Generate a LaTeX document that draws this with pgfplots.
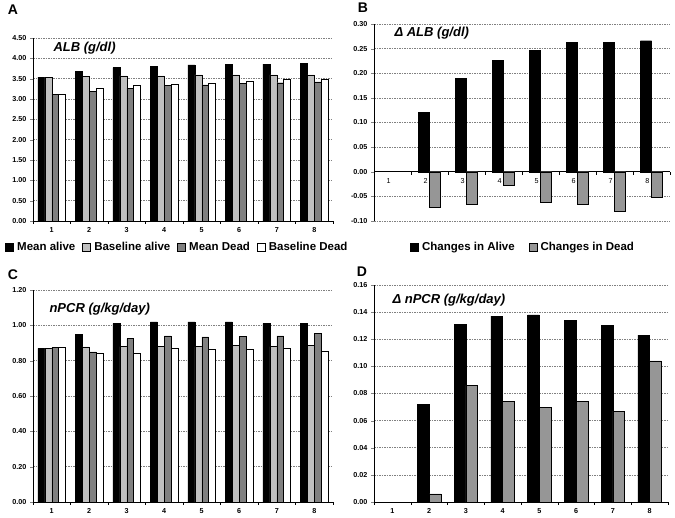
\documentclass[border=0pt]{standalone}
\usepackage{fontspec}
\setmainfont{Liberation Sans}
\usepackage{pgfplots}
\pgfplotsset{compat=1.18}

\definecolor{lgray}{RGB}{192,192,192}
\definecolor{mgray}{RGB}{128,128,128}
\definecolor{dgray}{RGB}{150,150,150}

\pgfplotsset{
 mybase/.style={
  scale only axis,
  anchor=south west,
  axis x line*=bottom, axis y line*=left,
  xmin=0.5, xmax=8.5,
  xtick={1,2,3,4,5,6,7,8},
  minor xtick={0.5,1.5,2.5,3.5,4.5,5.5,6.5,7.5,8.5},
  major x tick style={draw=none},
  minor x tick style={draw=black, line width=0.5pt},
  minor tick length=3pt,
  major tick length=3pt,
  tick align=outside,
  ymajorgrids,
  grid style={gray, dash pattern=on 1.5pt off 1pt, line width=0.6pt},
  tick label style={font=\fontsize{7.2}{8}\selectfont\bfseries},
  /pgf/number format/assume math mode=true,
  yticklabel style={/pgf/number format/.cd, fixed, fixed zerofill, precision=2},
  ybar=0pt,
  axis line style={black, line width=0.6pt},
  legend style={draw=none, fill=none, font=\fontsize{11.5}{13}\selectfont\bfseries, anchor=west, legend cell align=left,
    inner sep=0pt,
    /tikz/every odd column/.append style={column sep=1.5pt}},
  legend image code/.code={\draw[#1, draw=black, line width=0.4pt] (0pt,-4pt) rectangle (8pt,4pt);},
 }
}

\begin{document}
\begin{tikzpicture}
\useasboundingbox (0pt,0pt) rectangle (675pt,518pt);

% Panel A
\begin{axis}[mybase, at={(33pt,297pt)}, width=300pt, height=183pt,
  ymin=0, ymax=4.5, ytick={0,0.5,1,1.5,2,2.5,3,3.5,4,4.5},
  bar width=0.185,
  legend columns=4,
  legend style={at={(-0.093,-0.142)}, /tikz/every even column/.append style={column sep=5pt}},
  ]
\addplot[fill=black, draw=black, line width=0.4pt] coordinates {(1,3.54) (2,3.68) (3,3.77) (4,3.80) (5,3.84) (6,3.86) (7,3.86) (8,3.88)};
\addplot[fill=lgray, draw=black, line width=0.4pt] coordinates {(1,3.54) (2,3.55) (3,3.57) (4,3.57) (5,3.59) (6,3.59) (7,3.59) (8,3.59)};
\addplot[fill=mgray, draw=black, line width=0.4pt] coordinates {(1,3.12) (2,3.19) (3,3.27) (4,3.33) (5,3.35) (6,3.38) (7,3.40) (8,3.42)};
\addplot[fill=white, draw=black, line width=0.4pt] coordinates {(1,3.12) (2,3.26) (3,3.35) (4,3.37) (5,3.40) (6,3.43) (7,3.49) (8,3.48)};
\legend{Mean alive, Baseline alive, Mean Dead, Baseline Dead}
\end{axis}

% Panel B
\begin{axis}[mybase, at={(374pt,297pt)}, width=296pt, height=197pt,
  axis x line*=middle,
  ymin=-0.1, ymax=0.3, ytick={-0.1,-0.05,0,0.05,0.1,0.15,0.2,0.25,0.3},
  bar width=0.30,
  xticklabel style={font=\fontsize{7.2}{8}\selectfont, xshift=-4pt},
  legend columns=2,
  legend style={at={(0.1216,-0.132)}, /tikz/every even column/.append style={column sep=12pt}},
  ]
\addplot[fill=black, draw=black, line width=0.4pt] coordinates {(2,0.121) (3,0.190) (4,0.226) (5,0.246) (6,0.263) (7,0.263) (8,0.266)};
\addplot[fill=dgray, draw=black, line width=0.4pt] coordinates {(2,-0.073) (3,-0.065) (4,-0.028) (5,-0.061) (6,-0.066) (7,-0.080) (8,-0.051)};
\legend{Changes in Alive, Changes in Dead}
\end{axis}

% Panel C
\begin{axis}[mybase, at={(33pt,16pt)}, width=300pt, height=212pt,
  ymin=0, ymax=1.2, ytick={0,0.2,0.4,0.6,0.8,1.0,1.2},
  bar width=0.185,
  ]
\addplot[fill=black, draw=black, line width=0.4pt] coordinates {(1,0.870) (2,0.950) (3,1.010) (4,1.020) (5,1.020) (6,1.020) (7,1.010) (8,1.010)};
\addplot[fill=lgray, draw=black, line width=0.4pt] coordinates {(1,0.870) (2,0.878) (3,0.880) (4,0.880) (5,0.880) (6,0.885) (7,0.880) (8,0.885)};
\addplot[fill=mgray, draw=black, line width=0.4pt] coordinates {(1,0.875) (2,0.850) (3,0.925) (4,0.940) (5,0.935) (6,0.937) (7,0.940) (8,0.955)};
\addplot[fill=white, draw=black, line width=0.4pt] coordinates {(1,0.876) (2,0.840) (3,0.840) (4,0.868) (5,0.865) (6,0.865) (7,0.873) (8,0.853)};
\end{axis}

% Panel D
\begin{axis}[mybase, at={(374pt,16pt)}, width=294pt, height=217pt,
  ymin=0, ymax=0.16, ytick={0,0.02,0.04,0.06,0.08,0.1,0.12,0.14,0.16},
  bar width=0.32,
  ]
\addplot[fill=black, draw=black, line width=0.4pt] coordinates {(2,0.072) (3,0.131) (4,0.137) (5,0.138) (6,0.134) (7,0.130) (8,0.123)};
\addplot[fill=dgray, draw=black, line width=0.4pt] coordinates {(2,0.006) (3,0.086) (4,0.074) (5,0.070) (6,0.074) (7,0.067) (8,0.104)};
\end{axis}

% Titles
\node[anchor=west, font=\fontsize{13}{15}\selectfont\bfseries\itshape] at (50pt,470pt) {ALB (g/dl)};
\node[anchor=west, font=\fontsize{13}{15}\selectfont\bfseries\itshape] at (391pt,485pt) {Δ ALB (g/dl)};
\node[anchor=west, font=\fontsize{13}{15}\selectfont\bfseries\itshape] at (46pt,209pt) {nPCR (g/kg/day)};
\node[anchor=west, font=\fontsize{13}{15}\selectfont\bfseries\itshape] at (389pt,218pt) {Δ nPCR (g/kg/day)};

% Panel letters
\node[font=\fontsize{14}{16}\selectfont\bfseries] at (13pt,508pt) {A};
\node[font=\fontsize{14}{16}\selectfont\bfseries] at (363pt,510pt) {B};
\node[font=\fontsize{14}{16}\selectfont\bfseries] at (13pt,243pt) {C};
\node[font=\fontsize{14}{16}\selectfont\bfseries] at (362pt,246pt) {D};
\end{tikzpicture}
\end{document}
